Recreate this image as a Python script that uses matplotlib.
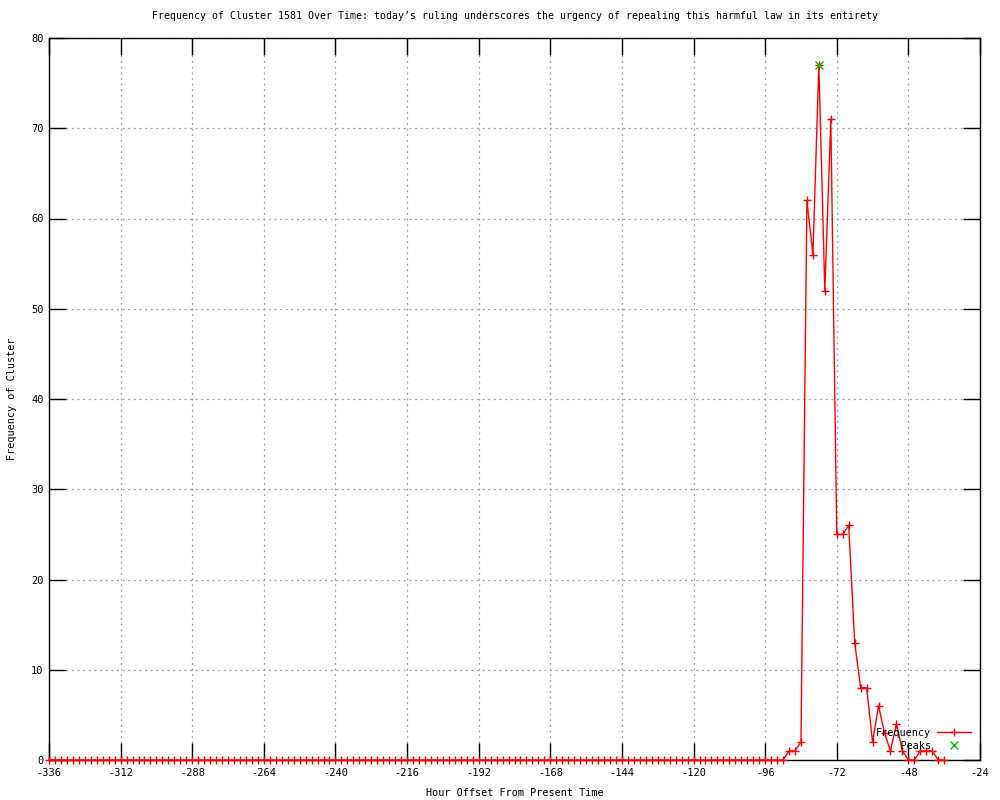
import matplotlib
matplotlib.use('Agg')
import matplotlib.pyplot as plt
import numpy as np

# hourly bins (every 2 hours) from -336 to -36
hours = np.arange(-336, -35, 2)

# counts per bin: flat zeros until -90, then the burst
quiet = [0] * 124
burst = [1, 1, 2, 62, 56, 77, 52, 71, 25, 25, 26, 13, 8, 8,
         2, 6, 3, 1, 4, 1, 0, 0, 1, 1, 1, 0, 0]
freq = quiet + burst

peak_hours = [-78]
peak_vals = [77]

title = ("Frequency of Cluster 1581 Over Time: today\u2019s ruling underscores "
         "the urgency of repealing this harmful law in its entirety")
xticks = list(range(-336, -23, 24))
yticks = list(range(0, 81, 10))

plt.rcParams['font.family'] = ['DejaVu Sans Mono']
plt.rcParams['font.size'] = 7.3

fig = plt.figure(figsize=(10, 8), dpi=100)
ax = fig.add_axes([0.049, 0.05, 0.931, 0.9025])

ax.plot(hours, freq, color='red', lw=1.0, marker='+', ms=6, mew=1.0,
        label='Frequency', clip_on=False, zorder=3)
ax.plot(peak_hours, peak_vals, color='#00c000', lw=0, marker='x', ms=6,
        mew=1.0, label='    Peaks', clip_on=False, zorder=4)

ax.set_xlim(-336, -24)
ax.set_ylim(0, 80)
ax.set_xticks(xticks)
ax.set_yticks(yticks)
ax.set_xticklabels([str(t) for t in xticks])

ax.tick_params(direction='in', length=12, width=1, top=True, right=True,
               colors='black', labelsize=7.5)
ax.tick_params(axis='x', pad=6)
ax.tick_params(axis='y', pad=4)

ax.grid(True, color='#a0a0a0', linestyle=(0, (1.5, 3)), lw=0.9)
ax.set_axisbelow(True)
for s in ax.spines.values():
    s.set_linewidth(1.0)
    s.set_zorder(2.5)

ax.set_title(title, pad=14, fontsize=7.15)
ax.set_xlabel('Hour Offset From Present Time')
ax.set_ylabel('Frequency of Cluster')
ax.xaxis.set_label_coords(0.5, -0.039)
ax.yaxis.set_label_coords(-0.0345, 0.5)

leg = ax.legend(loc='lower right', frameon=False, markerfirst=False,
                handlelength=3.3, handletextpad=0.6, labelspacing=0.3,
                borderaxespad=0.5, fontsize=7.3)

fig.savefig('out.png', dpi=100)
